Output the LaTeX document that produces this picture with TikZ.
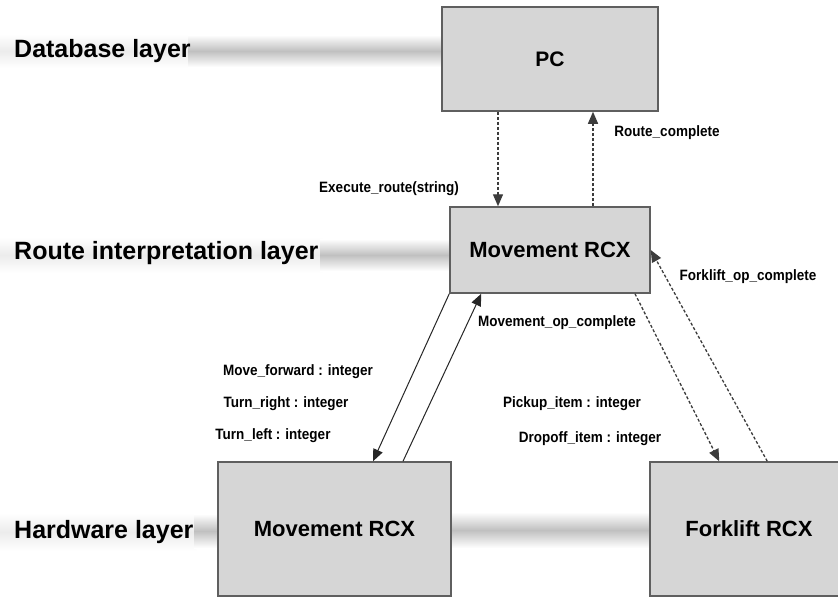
\documentclass[tikz,border=0pt]{standalone}
\usepackage{fontspec}
\setmainfont{Liberation Sans}
\newfontfamily\narrowfont[FakeStretch=0.9]{Liberation Sans}
\usetikzlibrary{arrows.meta}
\definecolor{boxfill}{RGB}{214,214,214}
\definecolor{boxline}{RGB}{95,95,95}
\definecolor{bandgray}{RGB}{192,192,192}
\definecolor{bandlight}{RGB}{236,236,236}
\definecolor{dashgray}{RGB}{60,60,60}
\tikzset{
  layerlabel/.style={anchor=west, inner sep=0pt, font=\fontsize{25}{28}\selectfont\bfseries},
  unitbox/.style={draw=boxline, line width=1.5pt, fill=boxfill, inner sep=0pt,
    font=\fontsize{22}{26}\selectfont\bfseries},
  msg/.style={inner sep=0pt, font=\narrowfont\fontsize{15}{17}\selectfont\bfseries},
  solidarrow/.style={draw=black!85, line width=1pt, -{Triangle[length=12pt,width=10pt]}},
  dasharrow/.style={draw=dashgray, line width=1.3pt, dash pattern=on 3pt off 2pt,
    -{Triangle[length=12pt,width=10pt]}}
}
\begin{document}
\begin{tikzpicture}[x=1pt,y=-1pt]
\useasboundingbox (0,0) rectangle (838,597);
\clip (0,0) rectangle (838,597);
\fill[white] (0,0) rectangle (838,597);
% bands
\shade[top color=white, bottom color=white, middle color=bandlight] (0,34) rectangle (190,68);
\shade[top color=white, bottom color=white, middle color=bandgray] (188,35) rectangle (442,67);
\shade[top color=white, bottom color=white, middle color=bandlight] (0,237) rectangle (322,273);
\shade[top color=white, bottom color=white, middle color=bandgray] (320,239) rectangle (450,271);
\shade[top color=white, bottom color=white, middle color=bandlight] (0,513) rectangle (196,551);
\shade[top color=white, bottom color=white, middle color=bandgray] (194,514) rectangle (218,548);
\shade[top color=white, bottom color=white, middle color=bandgray] (451,512) rectangle (650,548);
% layer labels
\node[layerlabel] (dbl) at (14,51) {Database layer};
\node[layerlabel] (ril) at (14,253) {Route interpretation layer};
\node[layerlabel] (hwl) at (14,532) {Hardware layer};
% boxes
\node[unitbox, minimum width=216pt, minimum height=104pt,
      font=\fontsize{21}{25}\selectfont\bfseries] (pc) at (550,59) {PC};
\node[unitbox, minimum width=200pt, minimum height=86pt] (mid) at (550,250) {Movement RCX};
\node[unitbox, minimum width=233pt, minimum height=134pt] (hw) at (334.5,529) {Movement RCX};
\node[unitbox, minimum width=198pt, minimum height=134pt] (fork) at (749,529) {Forklift RCX};
% connectors
\draw[dasharrow] ([xshift=-52pt]pc.south) -- ([xshift=-52pt]mid.north);
\draw[dasharrow] ([xshift=43pt]mid.north) -- ([xshift=43pt]pc.south);
\draw[solidarrow] (mid.south west) -- ([xshift=38.5pt]hw.north);
\draw[solidarrow] ([xshift=68.5pt]hw.north) -- ([xshift=32pt]mid.south west);
\draw[dasharrow] ([xshift=85pt]mid.south) -- ([xshift=70pt]fork.north west);
\draw[dasharrow] ([xshift=118pt]fork.north west) -- (mid.east);
% message labels
\node[msg] (exec) at (389,189) {Execute\_route(string)};
\node[msg] (rc) at (667,133) {Route\_complete};
\node[msg] (foc) at (748,277) {Forklift\_op\_complete};
\node[msg] (moc) at (557,323) {Movement\_op\_complete};
\node[msg] (mf) at (298,372) {Move\_forward : integer};
\node[msg] (tr) at (286,404) {Turn\_right : integer};
\node[msg] (tl) at (273,436) {Turn\_left : integer};
\node[msg] (pu) at (572,404) {Pickup\_item : integer};
\node[msg] (do) at (590,439) {Dropoff\_item : integer};
\end{tikzpicture}
\end{document}
